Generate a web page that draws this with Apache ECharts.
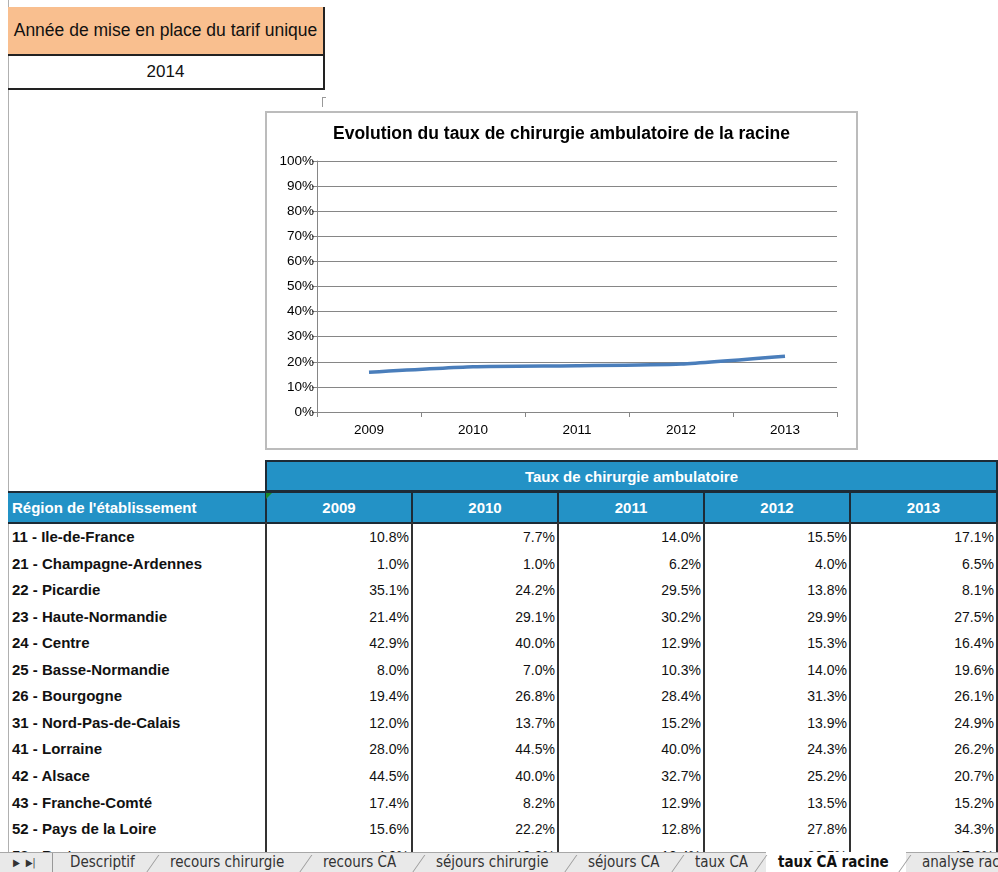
<!DOCTYPE html>
<html><head><meta charset="utf-8">
<script src="https://cdn.jsdelivr.net/npm/echarts@6/dist/echarts.min.js"></script>
<style>
html,body{margin:0;padding:0;background:#fff;width:998px;height:872px;overflow:hidden;font-family:"Liberation Sans",Arial,sans-serif;}
.abs{position:absolute;box-sizing:border-box;}
#leftline{left:8px;top:0;width:1px;height:852px;background:#b0b0b0;}
#hdr{left:8px;top:7px;width:317px;height:49px;background:#F9BF8F;border-right:2px solid #222;border-bottom:2px solid #222;font-size:17.5px;color:#111;display:flex;align-items:center;justify-content:center;}
#yr{left:8px;top:56px;width:317px;height:34px;border-right:2px solid #222;border-bottom:2px solid #222;font-size:17px;color:#111;display:flex;align-items:center;justify-content:center;}
#chart{left:265px;top:111px;width:593px;height:339px;border:2px solid #bcbcbc;}
.blue{background:#2392C6;color:#fff;font-weight:bold;font-size:15px;display:flex;align-items:center;justify-content:center;}
.cell{font-size:14px;color:#111;white-space:nowrap;}
#tabs{left:0;top:852px;width:998px;height:20px;background:#e9e9e9;border-top:1px solid #a8a8a8;font-family:"Liberation Sans Narrow","DejaVu Sans Condensed",sans-serif;font-size:15px;color:#333;}
.tab{position:absolute;top:0;height:19px;line-height:19px;white-space:nowrap;}
.sep{position:absolute;top:2px;width:1px;height:18px;background:#999;transform:skewX(-35deg);}
</style></head>
<body>
<div class="abs" id="leftline"></div>
<div class="abs" id="hdr">Année de mise en place du tarif unique</div>
<div class="abs" id="yr">2014</div>
<div class="abs" style="left:322px;top:97px;width:4px;height:10px;border-left:1px solid #999;border-top:1px solid #999;"></div>
<div class="abs" id="chart"><div id="c" style="width:589px;height:335px;"></div></div>
<div id="table"></div>
<div class="abs" id="tabs"></div>
<script>
// Chart data (line)
const years = ['2009','2010','2011','2012','2013'];
const tauxRacine = [15.8, 18.0, 18.4, 19.1, 22.2];
const yTicks = [0,10,20,30,40,50,60,70,80,90,100];

// Table data
const regions = ['11 - Ile-de-France','21 - Champagne-Ardennes','22 - Picardie','23 - Haute-Normandie','24 - Centre','25 - Basse-Normandie','26 - Bourgogne','31 - Nord-Pas-de-Calais','41 - Lorraine','42 - Alsace','43 - Franche-Comté','52 - Pays de la Loire','53 - Bretagne'];
const v2009 = ['10.8%','1.0%','35.1%','21.4%','42.9%','8.0%','19.4%','12.0%','28.0%','44.5%','17.4%','15.6%','4.9%'];
const v2010 = ['7.7%','1.0%','24.2%','29.1%','40.0%','7.0%','26.8%','13.7%','44.5%','40.0%','8.2%','22.2%','19.9%'];
const v2011 = ['14.0%','6.2%','29.5%','30.2%','12.9%','10.3%','28.4%','15.2%','40.0%','32.7%','12.9%','12.8%','13.4%'];
const v2012 = ['15.5%','4.0%','13.8%','29.9%','15.3%','14.0%','31.3%','13.9%','24.3%','25.2%','13.5%','27.8%','20.5%'];
const v2013 = ['17.1%','6.5%','8.1%','27.5%','16.4%','19.6%','26.1%','24.9%','26.2%','20.7%','15.2%','34.3%','17.8%'];
const tabNames = ['Descriptif','recours chirurgie','recours CA','séjours chirurgie','séjours CA','taux CA','taux CA racine','analyse racine'];

// ---- Table (HTML) ----
const colX = [265,411,557,703,849,996];
const T = document.getElementById('table');
function add(html){T.insertAdjacentHTML('beforeend',html);}
add(`<div class="abs blue" style="left:265px;top:460px;width:733px;height:32px;border:2px solid #1d2b36;">Taux de chirurgie ambulatoire</div>`);
add(`<div class="abs blue" style="left:8px;top:491px;width:258px;height:33px;border-top:2px solid #1d2b36;border-bottom:2px solid #1d2b36;justify-content:flex-start;padding-left:4px;">Région de l'établissement</div>`);
for(let i=0;i<5;i++){
  add(`<div class="abs blue" style="left:${colX[i]}px;top:491px;width:${colX[i+1]-colX[i]+2}px;height:33px;border:2px solid #1d2b36;">${years[i]}</div>`);
}
add(`<div class="abs" style="left:266px;top:493px;width:0;height:0;border-top:6px solid #1a8a2a;border-right:6px solid transparent;"></div>`);
for(let i=0;i<6;i++){
  add(`<div class="abs" style="left:${colX[i]}px;top:522px;width:2px;height:330px;background:#333;"></div>`);
}
const cols=[v2009,v2010,v2011,v2012,v2013];
const rowH=26.55, row0=524;
regions.forEach((r,k)=>{
  const top=row0+k*rowH;
  if(top>852) return;
  add(`<div class="abs cell" style="left:12px;top:${top}px;height:${rowH}px;line-height:${rowH}px;font-weight:bold;font-size:15px;">${r}</div>`);
  cols.forEach((c,i)=>{
    add(`<div class="abs cell" style="left:${colX[i]}px;top:${top}px;width:${colX[i+1]-colX[i]-2}px;height:${rowH}px;line-height:${rowH}px;text-align:right;">${c[k]}</div>`);
  });
});

// ---- Tab bar ----
const tabs=document.getElementById('tabs');
tabs.insertAdjacentHTML('beforeend',`<div class="tab" style="left:13px;font-size:10px;color:#333">&#9654;&nbsp;&nbsp;&#9654;|</div><div style="position:absolute;left:52px;top:0;width:1px;height:20px;background:#999"></div>`);
const tabX=[70,170,323,436,588,695,778,922];
tabNames.forEach((n,i)=>{
  const active = n==='taux CA racine';
  if(active){
    tabs.insertAdjacentHTML('beforeend',`<div class="tab" style="left:766px;width:140px;height:20px;top:-1px;background:#fff;"></div>`);
  }
  tabs.insertAdjacentHTML('beforeend',`<div class="tab" style="left:${tabX[i]}px;${active?'font-weight:bold;color:#111;':''}">${n}</div>`);
  if(i>0) tabs.insertAdjacentHTML('beforeend',`<div class="sep" style="left:${tabX[i]-18}px"></div>`);
});

// ---- ECharts line chart ----
const chart = echarts.init(document.getElementById('c'), null, {renderer:'canvas'});
chart.setOption({
  animation:false,
  title:{text:'Evolution du taux de chirurgie ambulatoire de la racine',left:'center',top:7,
    textStyle:{fontFamily:'Liberation Sans',fontSize:17.5,fontWeight:'bold',color:'#000'}},
  grid:{left:50,right:19,top:48,bottom:36},
  xAxis:{type:'category',data:years,boundaryGap:true,
    axisLine:{lineStyle:{color:'#868686',width:1}},
    axisTick:{show:true,length:5,lineStyle:{color:'#868686'}},
    axisLabel:{color:'#000',fontFamily:'Liberation Sans',fontSize:13.5,margin:11}},
  yAxis:{type:'value',min:0,max:100,interval:10,
    axisLine:{show:true,lineStyle:{color:'#868686'}},
    axisTick:{show:true,length:5,lineStyle:{color:'#868686'}},
    splitLine:{lineStyle:{color:'#868686',width:1}},
    axisLabel:{formatter:v=>yTicks.includes(v)?v+'%':'',color:'#000',fontFamily:'Liberation Sans',fontSize:13.5,margin:3}},
  series:[{type:'line',data:tauxRacine,smooth:0.2,showSymbol:false,
    lineStyle:{color:'#4A7EBB',width:3.5}}]
});
</script>
</body></html>
